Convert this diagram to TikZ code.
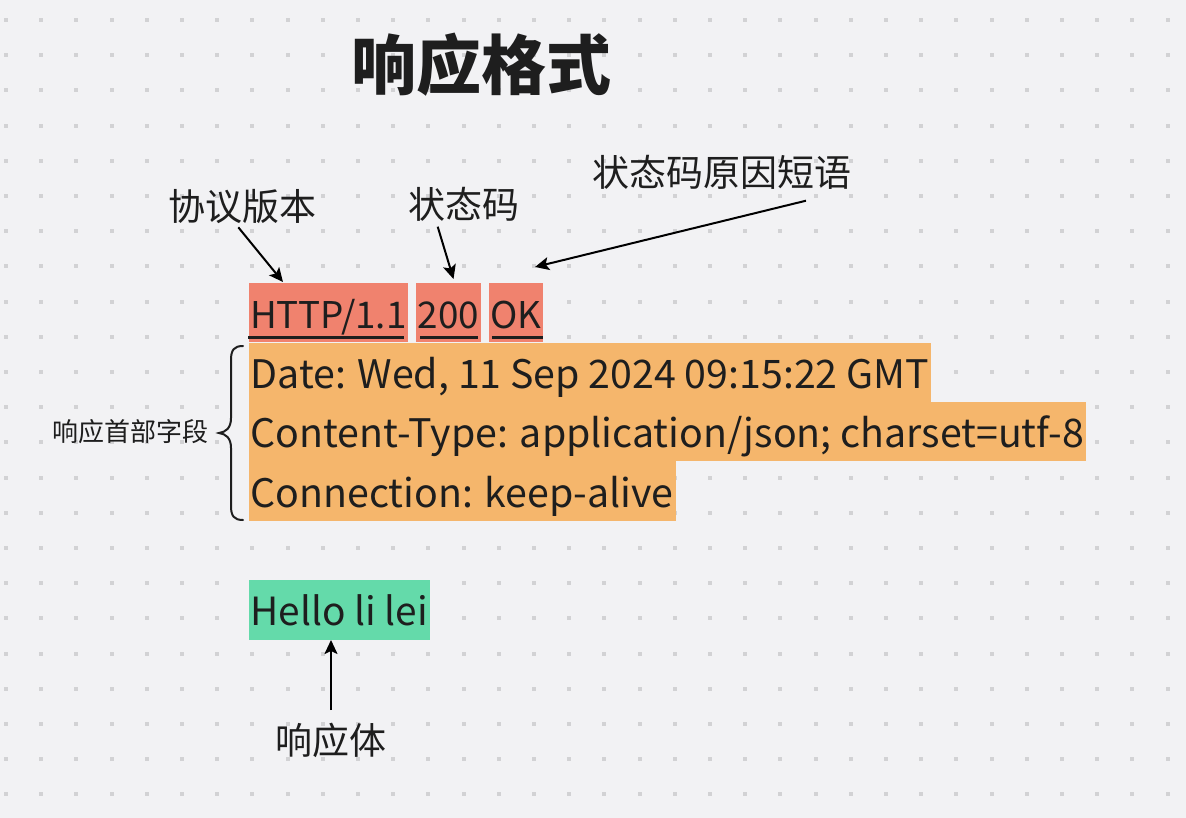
\documentclass[tikz,border=0pt]{standalone}
\usepackage{fontspec}
\setmainfont{Noto Sans CJK SC}
\usetikzlibrary{arrows.meta}
\definecolor{bg}{HTML}{F2F2F4}
\definecolor{dotc}{HTML}{D2D2D4}
\definecolor{salmon}{HTML}{F0826E}
\definecolor{orangeb}{HTML}{F5B66C}
\definecolor{greenb}{HTML}{64DAAA}
\definecolor{ink}{HTML}{1E1E1E}
\tikzset{
  boxtext/.style={anchor=north west, inner xsep=2pt, inner ysep=0pt,
    text height=46pt, text depth=13.3pt, text=ink,
    font=\fontsize{39.3}{47}\selectfont},
  statbox/.style={boxtext, fill=salmon, inner xsep=1.5pt, text height=45pt, text depth=13.7pt,
    font=\fontsize{36.8}{44}\selectfont},
  lbl/.style={text=ink, inner sep=0pt, font=\fontsize{37}{44}\selectfont},
  arr/.style={draw=black, line width=2pt, -{Stealth[length=14pt,width=13pt,inset=3pt]}},
  uline/.style={draw=ink, line width=2.4pt}
}
\begin{document}
\begin{tikzpicture}[x=1pt,y=-1pt]
\useasboundingbox (0,0) rectangle (1186,818);
\fill[bg] (0,0) rectangle (1186,818);
\foreach \i in {0,...,33}{
  \foreach \j in {0,...,22}{
    \fill[dotc] ({6+35.2*\i-2},{20+35.2*\j-2}) rectangle +(4,4);
  }
}
% title
\node[text=ink, inner sep=0pt, font=\fontsize{65}{72}\selectfont\bfseries] (title) at (481,65) {响应格式};
% status line
\node[statbox] (http) at (248.3,283.3) {HTTP/1.1};
\node[statbox] (code) at ([xshift=8pt]http.north east) {200};
\node[statbox] (ok) at ([xshift=8pt]code.north east) {OK};
\draw[uline] ([xshift=0pt,yshift=-9pt]http.base west) -- ([xshift=-4pt,yshift=-9pt]http.base east);
\draw[uline] ([xshift=4pt,yshift=-9pt]code.base west) -- ([xshift=-3pt,yshift=-9pt]code.base east);
\draw[uline] ([xshift=3pt,yshift=-9pt]ok.base west) -- ([xshift=0pt,yshift=-9pt]ok.base east);
% header fields
\node[boxtext, fill=orangeb] (date) at (248.3,342.3) {Date: Wed, 11 Sep 2024 09:15:22 GMT};
\node[boxtext, fill=orangeb] (ctype) at (248.3,401.7) {Content-Type: application/json; charset=utf-8};
\node[boxtext, fill=orangeb] (conn) at (248.3,461) {Connection: keep-alive};
% body
\node[boxtext, fill=greenb, text height=45pt, text depth=14.3pt, font=\fontsize{38.8}{46}\selectfont] (body) at (248.3,580) {Hello li lei};
% labels
\node[lbl] (lver) at (242,207) {协议版本};
\node[lbl] (lcode) at (464,204) {状态码};
\node[lbl] (lreason) at (721.7,172.5) {状态码原因短语};
\node[lbl] (lbody) at (331,740) {响应体};
\node[text=ink, inner sep=0pt, font=\fontsize{26}{30}\selectfont] (lhead) at (130.5,432) {响应首部字段};
% arrows
\coordinate (a1s) at (238.3,227.3);
\coordinate (a1e) at (283,282);
\coordinate (a2s) at (437.7,226.7);
\coordinate (a2e) at (453.5,279);
\coordinate (a3s) at (806,200.7);
\coordinate (a3e) at (535,267);
\coordinate (a4s) at (331,710);
\coordinate (a4e) at (331,640);
\draw[arr] (a1s) -- (a1e);
\draw[arr] (a2s) -- (a2e);
\draw[arr] (a3s) -- (a3e);
\draw[arr] (a4s) -- (a4e);
% brace
\coordinate (bt) at (243,346);
\coordinate (bm) at (219,433);
\coordinate (bb) at (243,520);
\draw[ink, line width=2pt, line cap=round]
  (bt) .. controls (234,346) and (231,350) .. (231,360)
  -- (231,418) .. controls (231,428) and (226,432) .. (bm)
  .. controls (226,434) and (231,438) .. (231,448)
  -- (231,506) .. controls (231,516) and (234,520) .. (bb);
\end{tikzpicture}
\end{document}
